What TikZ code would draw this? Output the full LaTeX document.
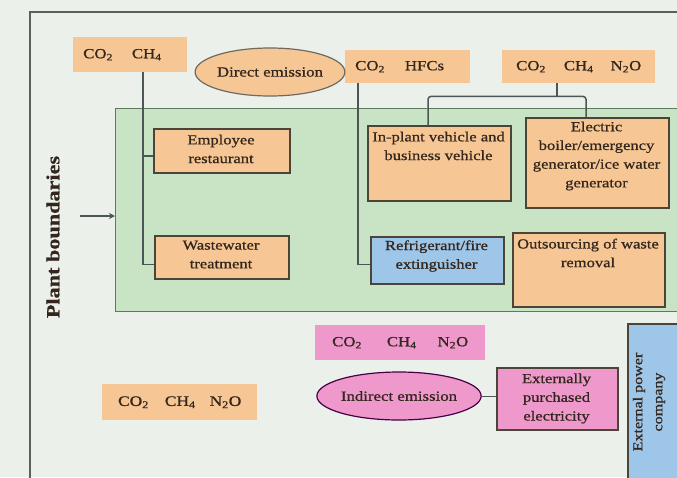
\documentclass[tikz,border=0pt]{standalone}
\usepackage{fontspec}
\setmainfont{Liberation Serif}[FakeStretch=1.2, FakeBold=0.8]
\usetikzlibrary{shapes.geometric,arrows.meta}

\definecolor{bgc}{HTML}{EBF0EA}
\definecolor{framec}{HTML}{5A5F5C}
\definecolor{zonefill}{HTML}{C9E4C5}
\definecolor{zoneline}{HTML}{5E7862}
\definecolor{peach}{HTML}{F6C795}
\definecolor{rose}{HTML}{EE98CB}
\definecolor{sky}{HTML}{9EC6E8}
\definecolor{edgec}{HTML}{4A4538}
\definecolor{wire}{HTML}{4B5755}
\definecolor{ink}{HTML}{33261C}

\tikzset{
  box/.style={draw=edgec, line width=1.6pt, anchor=north west, inner sep=0pt},
  obox/.style={box, fill=peach},
  pbox/.style={box, fill=rose},
  bbox/.style={box, fill=sky},
  gasbox/.style={anchor=north west, inner sep=0pt},
  btxt/.style={text=ink, align=center, inner sep=0pt,
    font=\fontsize{13.8}{18.7}\selectfont},
  gas/.style={text=ink, inner sep=0pt, font=\fontsize{14}{16}\selectfont},
  emis/.style={ellipse, line width=1.2pt, inner sep=0pt, text=ink,
    minimum width=141pt, minimum height=48pt,
    font=\fontsize{14}{16}\selectfont},
  wireline/.style={draw=wire, line width=1.5pt},
}

\begin{document}
\begin{tikzpicture}[x=1pt,y=-1pt]
\useasboundingbox (0,0) rectangle (677,477);
\fill[bgc] (0,0) rectangle (677,477);

% outer frame of the site
\draw[framec, line width=1.6pt] (30,490) -- (30,12) -- (690,12);

% plant boundary zone
\node[draw=zoneline, fill=zonefill, line width=1.4pt, anchor=north west,
  minimum width=580pt, minimum height=203pt, inner sep=0pt] (plant) at (115,108) {};

\node[rotate=90, text=ink, inner sep=0pt,
  font=\bfseries\fontsize{18.5}{22}\selectfont] (pb) at (53,237) {Plant boundaries};
\coordinate (arrowstart) at (80,216);
\draw[wireline, -{Stealth[length=6pt,width=6pt]}] (arrowstart) -- (arrowstart -| plant.west);

% gas labels
\node[gasbox, fill=peach, minimum width=114pt, minimum height=35pt] (co2a) at (73,37) {};
\node[gas, anchor=west] at ([xshift=10pt]co2a.west)
  {CO\textsubscript{2}\hspace{19pt}CH\textsubscript{4}};

\node[gasbox, fill=peach, minimum width=125pt, minimum height=33pt] (co2b) at (345,50) {};
\node[gas, anchor=west] at ([xshift=10pt]co2b.west)
  {CO\textsubscript{2}\hspace{20pt}HFCs};

\node[gasbox, fill=peach, minimum width=153pt, minimum height=33pt] (co2c) at (502,50) {};
\node[gas] at (co2c.center)
  {CO\textsubscript{2}\hspace{18pt}CH\textsubscript{4}\hspace{17pt}N\textsubscript{2}O};

\node[gasbox, fill=rose, minimum width=170pt, minimum height=35pt] (co2d) at (315,325) {};
\node[gas] at (co2d.center)
  {CO\textsubscript{2}\hspace{25pt}CH\textsubscript{4}\hspace{21pt}N\textsubscript{2}O};

\node[gasbox, fill=peach, minimum width=155pt, minimum height=36pt] (co2e) at (102,384) {};
\node[gas, font=\fontsize{14.5}{16}\selectfont] at (co2e.center)
  {CO\textsubscript{2}\hspace{16pt}CH\textsubscript{4}\hspace{14pt}N\textsubscript{2}O};

% emission ellipses
\node[emis, draw=edgec!80, fill=peach] (direct) at (270,72) {Direct emission};
\node[emis, draw=violet!55!black, fill=rose] (indirect) at (399,396) {Indirect emission};

% sources inside the plant
\node[obox, minimum width=136pt, minimum height=44pt] (emp) at (153,128) {};
\node[btxt] at (221,149) {Employee\\restaurant};

\node[obox, minimum width=134pt, minimum height=43pt] (waste) at (154,235) {};
\node[btxt] at (221,254.5) {Wastewater\\treatment};

\node[obox, minimum width=143pt, minimum height=75pt] (veh) at (367,125) {};
\node[btxt] at (438.5,146) {In-plant vehicle and\\business vehicle};

\node[obox, minimum width=143pt, minimum height=90pt] (elec) at (525,117) {};
\node[btxt] at (596.5,156) {Electric\\boiler/emergency\\generator/ice water\\generator};

\node[bbox, minimum width=133pt, minimum height=47pt] (refr) at (370,236) {};
\node[btxt] at (436.5,256) {Refrigerant/fire\\extinguisher};

\node[obox, minimum width=152pt, minimum height=74pt] (outs) at (512,232) {};
\node[btxt] at (588,253) {Outsourcing of waste\\removal};

% external supply
\node[pbox, minimum width=121pt, minimum height=62pt] (ext) at (496,367) {};
\node[btxt] at (556.5,398.5) {Externally\\purchased\\electricity};

\node[bbox, minimum width=60pt, minimum height=170pt] (power) at (627,323) {};
\node[btxt, rotate=90, font=\fontsize{13.4}{20}\selectfont] at (649,402) {External power\\company};

% connectors
\coordinate (empjoin) at ([yshift=-5pt]emp.west);
\coordinate (wastejoin) at ([yshift=-7pt]waste.west);
\coordinate (refrjoin) at ([yshift=-4pt]refr.west);
\coordinate (trunkA) at ([xshift=70pt]co2a.south west);
\draw[wireline] (trunkA) |- (wastejoin);
\draw[wireline] (trunkA |- empjoin) -- (empjoin);
\draw[wireline] ([xshift=13pt]co2b.south west) |- (refrjoin);
\draw[wireline] ([xshift=55pt]co2c.south west) -- ++(0,13) coordinate (bus);
\draw[wireline, rounded corners=3pt] ([xshift=61pt]veh.north west) |- (bus)
  -| ([xshift=61pt]elec.north west);
\draw[draw=wire, line width=1pt] (indirect.east) -- (indirect.east -| ext.west);
\end{tikzpicture}
\end{document}
